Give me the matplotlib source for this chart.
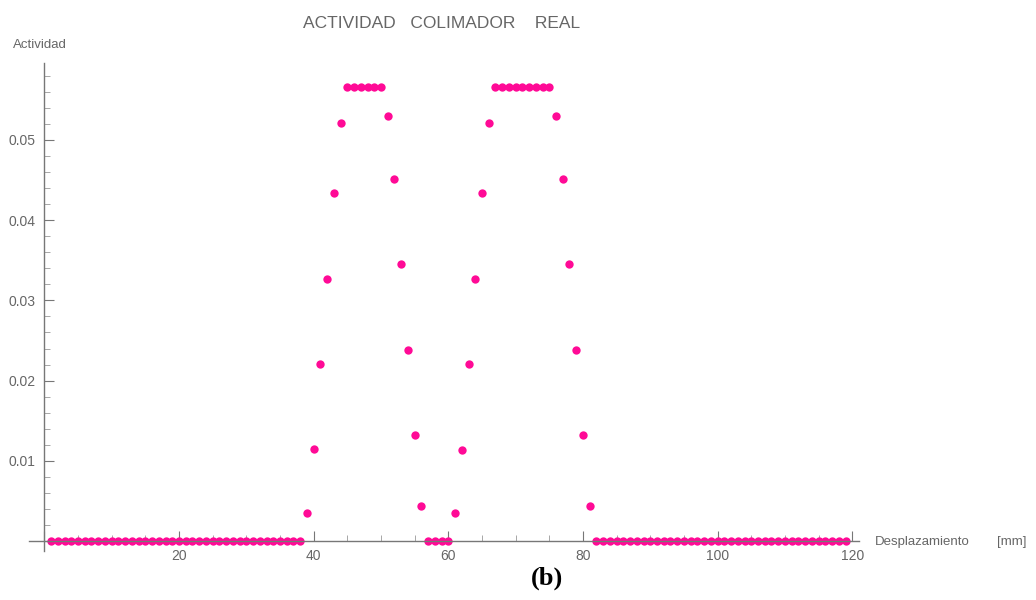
import matplotlib.pyplot as plt
from matplotlib.ticker import MultipleLocator, FuncFormatter

# desplazamiento en mm (1..119)
desplazamiento = list(range(1, 120))
# actividad
actividad = ([0.0] * 38 +
             [0.0035, 0.0115, 0.0221, 0.0327, 0.0434, 0.0521,
              0.0566, 0.0566, 0.0566, 0.0566, 0.0566, 0.0566,
              0.0530, 0.0451, 0.0345, 0.0238, 0.0132, 0.0044,
              0.0, 0.0, 0.0, 0.0,
              0.0035, 0.0114, 0.0221, 0.0327, 0.0434, 0.0521,
              0.0566, 0.0566, 0.0566, 0.0566, 0.0566, 0.0566, 0.0566, 0.0566, 0.0566,
              0.0530, 0.0451, 0.0345, 0.0238, 0.0132, 0.0044] +
             [0.0] * 38)

gris = '#666666'
plt.rcParams['font.family'] = ['Liberation Sans', 'DejaVu Sans']

fig = plt.figure(figsize=(10.36, 6), dpi=100)
ax = fig.add_axes([29/1036, 1-551/600, 830/1036, 488/600])
ax.plot(desplazamiento, actividad, 'o', color='#FF0A96', markersize=6, markeredgewidth=0)
ax.set_xlim(-2.28, 121.0)
ax.set_ylim(-0.00125, 0.0596)

for s in ['right', 'top']:
    ax.spines[s].set_visible(False)
for s in ['left', 'bottom']:
    ax.spines[s].set_position(('data', 0))
    ax.spines[s].set_color('#777777')
    ax.spines[s].set_linewidth(1.0)

ax.xaxis.set_major_locator(MultipleLocator(20))
ax.xaxis.set_minor_locator(MultipleLocator(5))
ax.yaxis.set_major_locator(MultipleLocator(0.01))
ax.yaxis.set_minor_locator(MultipleLocator(0.002))
ax.xaxis.set_major_formatter(FuncFormatter(lambda v, p: '' if v <= 0 else '%d' % v))
ax.yaxis.set_major_formatter(FuncFormatter(lambda v, p: '' if v <= 0 else '%.2f' % v))
ax.tick_params(which='major', direction='in', length=7, color='#777777', labelcolor=gris, labelsize=10)
ax.tick_params(which='minor', direction='in', length=4, color='#999999')
ax.tick_params(axis='x', pad=6)
ax.tick_params(axis='y', pad=6.5)
ax.set_zorder(1)

fig.text(442/1036, 1-24/600, 'ACTIVIDAD   COLIMADOR    REAL', ha='center', va='center',
         color=gris, fontsize=12.5)
fig.text(13/1036, 1-45/600, 'Actividad', ha='left', va='center', color=gris, fontsize=9.5)
fig.text(875/1036, 1-542/600, 'Desplazamiento', ha='left', va='center',
         color=gris, fontsize=9.5)
fig.text(997/1036, 1-542/600, '[mm]', ha='left', va='center',
         color=gris, fontsize=9.5)
fig.text(547/1036, 1-578/600, '(b)', ha='center', va='center', color='black',
         fontsize=19, fontweight='bold', family='Liberation Serif')

fig.savefig('out.png', dpi=100)
